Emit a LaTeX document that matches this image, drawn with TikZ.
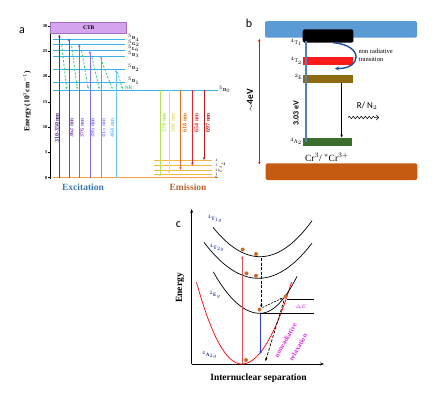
\documentclass[tikz,border=0pt]{standalone}
\usepackage{fontspec}
\setmainfont{Liberation Serif}
\setsansfont{Carlito}
\usetikzlibrary{arrows.meta,decorations.pathmorphing}
\definecolor{lvl}{HTML}{3DB3E3}
\definecolor{ctbfill}{HTML}{D4A5EE}
\definecolor{ctbdraw}{HTML}{A070C0}
\definecolor{exa}{HTML}{5C2D91}
\definecolor{exb}{HTML}{7B3FA8}
\definecolor{exc}{HTML}{9B59D0}
\definecolor{exd}{HTML}{7F6FE8}
\definecolor{exe}{HTML}{8C8CF0}
\definecolor{exf}{HTML}{6EC6EE}
\definecolor{nrgreen}{HTML}{2BD46B}
\definecolor{gnd}{HTML}{F5A04A}
\definecolor{fj}{HTML}{F0B848}
\definecolor{ema}{HTML}{B5E05A}
\definecolor{emb}{HTML}{E6E070}
\definecolor{emc}{HTML}{E0701E}
\definecolor{emd}{HTML}{E02828}
\definecolor{eme}{HTML}{B81818}
\definecolor{excol}{HTML}{3A78B5}
\definecolor{emcol}{HTML}{B8692E}
\definecolor{topbar}{HTML}{5B9BD5}
\definecolor{botbar}{HTML}{C55A11}
\definecolor{redbox}{HTML}{FF1A1A}
\definecolor{olive}{HTML}{8C6A12}
\definecolor{greenbox}{HTML}{3B6E2D}
\definecolor{bluel}{HTML}{4F81BD}
\definecolor{curvarr}{HTML}{1F4E9A}
\definecolor{dotc}{HTML}{CC6B2C}
\definecolor{lblblue}{HTML}{1A2A8A}
\definecolor{magc}{HTML}{E030E0}
\definecolor{bluearr}{HTML}{2A3AE0}
\definecolor{redarr}{HTML}{E05050}
\tikzset{
  panellbl/.style={font=\sffamily\fontsize{12}{12}\selectfont, inner sep=0pt},
  tick/.style={font=\bfseries\fontsize{4.5}{5}\selectfont, inner sep=0pt, anchor=east},
  lvllbl/.style={font=\bfseries\fontsize{4.5}{4.5}\selectfont, inner sep=0pt, anchor=west},
  wl/.style={rotate=90, font=\bfseries\fontsize{6}{6}\selectfont, inner sep=0pt},
  tip/.style={-{Stealth[length=3pt,width=2.4pt]}},
  level/.style={draw=lvl, line width=0.9pt},
  clbl/.style={font=\bfseries\fontsize{5}{5}\selectfont, text=lblblue, inner sep=0pt},
  dot/.style={circle, fill=dotc, inner sep=0pt, minimum size=4pt},
}
\begin{document}
\begin{tikzpicture}[x=1pt,y=-1pt]
\useasboundingbox (0,0) rectangle (439,399);
% ================= panel a =================
\node[panellbl] (la) at (22,31) {a};
\draw[line width=0.6pt] (50,25) -- (50,178.5);
\foreach \v [count=\i from 0] in {0,5,10,15,20,25,30} {
  \draw[line width=0.6pt] (48,177.7-25.3*\i) -- (50,177.7-25.3*\i);
  \node[tick] at (47.5,177.7-25.3*\i) {\v};
}
\node[rotate=90, font=\bfseries\fontsize{7.5}{8}\selectfont] (ylab) at (27,101) {Energy (10$^3$cm$^{-1}$)};
\node[draw=ctbdraw, fill=ctbfill, minimum width=76pt, minimum height=10.6pt, inner sep=0pt,
      font=\bfseries\fontsize{5.5}{6}\selectfont, line width=0.5pt] (ctb) at (88.7,28) {CTB};
% levels
\foreach \y/\l in {39.3/{$^5$D$_4$},44.7/{$^5$G$_2$},50/{$^5$L$_6$},56/{$^5$D$_3$},69.3/{$^5$D$_2$},82.3/{$^5$D$_1$}} {
  \draw[level] (53,\y) -- (125,\y);
  \node[lvllbl] at (128,\y-1.5) {\l};
}
\draw[level] (53,90) -- (218,90);
\node[lvllbl] (d0) at (219,89.5) {$^5$D$_0$};
\node[font=\bfseries\fontsize{5}{5}\selectfont, text=nrgreen, inner sep=0pt] (nr) at (128.5,88) {NR};
% ground
\draw[draw=gnd, line width=1.1pt] (53,177.7) -- (218,177.7);
% non radiative dashed
\foreach \xa/\ya/\xb in {61.7/45/66.7, 71.7/46/77.3, 81.7/51/88.3, 92/57/99.3, 102/62/112.3, 117.5/72/122.5} {
  \draw[nrgreen, line width=0.8pt, dash pattern=on 2.2pt off 1.6pt, -{Stealth[length=2.2pt,width=2pt]}] (\xa,\ya) -- (\xb,89);
}
% excitation arrows
\foreach \x/\yt/\c/\lab/\dx in {59.3/34.5/exa/310-350 nm/-2.3, 69/38.5/exb/362 nm/2.5, 79.3/44/exc/376 nm/2.5, 90/51/exd/395 nm/2.5, 101/56/exe/415 nm/2.3, 116/69.5/exf/464 nm/-3.8} {
  \draw[tip, \c, line width=1pt] (\x,177.7) -- (\x,\yt);
  \node[wl, text=\c] at (\x+\dx,128) {\lab};
}
% 7F levels
\foreach \y/\n in {160/4,165.7/3,170/2,174/1} {
  \draw[fj, line width=1pt] (154,\y) -- (212,\y);
  \node[font=\fontsize{3.5}{4}\selectfont, inner sep=0pt] at (216.5,\y) {\n};
}
\node[font=\fontsize{3.5}{4}\selectfont, inner sep=0pt] at (216.5,177.7) {0};
\node[rotate=-90, font=\fontsize{3.5}{4}\selectfont, inner sep=0pt] (fjl) at (221.5,168) {$^7$F$_J$};
% emission arrows
\foreach \x/\yb/\c/\lab in {160/176.5/ema/578 nm, 169/173.5/emb/588 nm, 180.7/170/emc/618 nm, 192.3/165.5/emd/654 nm, 204/160/eme/697 nm} {
  \draw[tip, \c, line width=1pt] (\x,90) -- (\x,\yb);
  \node[wl, text=\c] at (\x+4,123) {\lab};
}
\node[font=\bfseries\fontsize{9.5}{10}\selectfont, text=excol, inner sep=0pt] (exl) at (83,187.5) {Excitation};
\node[font=\bfseries\fontsize{9.5}{10}\selectfont, text=emcol, inner sep=0pt] (eml) at (188,187.5) {Emission};
% ================= panel b =================
\node[panellbl] (lb) at (249,23) {b};
\fill[topbar, rounded corners=2pt] (265,21) rectangle (417,37.7);
\fill[botbar, rounded corners=2pt] (265.7,163.3) rectangle (417.3,180);
\fill[black, rounded corners=1.5pt] (302.7,29.3) rectangle (353.3,42.7);
\fill[redbox] (302.7,57.3) rectangle (352.7,65);
\fill[olive] (302.7,75) rectangle (352.7,82.7);
\fill[greenbox] (302.7,138.3) rectangle (351.7,146);
\coordinate (t1) at (306,40.5);
\coordinate (a2) at (306,141.7);
\draw[bluel, line width=1.8pt] (t1) -- (a2);
\coordinate (es) at (341.7,82.7);
\coordinate (ee) at (341.7,137.5);
\draw[-{Stealth[length=3pt,width=2.4pt]}, line width=0.9pt] (es) -- (ee);
\coordinate (cs) at (333,42.7);
\coordinate (ce) at (335,68.5);
\draw[curvarr, line width=1.4pt, -{Stealth[length=4pt,width=4pt]}] (cs) .. controls (364,45) and (362,69) .. (ce);
\node[font=\fontsize{6.5}{7.5}\selectfont, align=left, anchor=west, inner sep=0pt] (nrt) at (358.5,55.5) {non radiative\\transition};
\foreach \y/\l in {42.2/{$^4$T$_1$},61/{$^4$T$_2$},76.5/{$^2$E},141.5/{$^4$A$_2$}} {
  \node[font=\fontsize{5.5}{5.5}\selectfont, anchor=east, inner sep=0pt] at (302,\y) {\l};
}
\node[rotate=90, font=\sffamily\bfseries\fontsize{8}{8}\selectfont, inner sep=0pt] (eV) at (296,113) {3.03 eV};
\node[font=\sffamily\fontsize{9}{9}\selectfont, inner sep=0pt] (rn) at (367,106) {R/ N$_2$};
\coordinate (ws) at (348,117.5);
\coordinate (we) at (379,117.5);
\draw[line width=0.5pt, decorate, decoration={snake, amplitude=1.3pt, segment length=4pt, post length=3pt}, -{Straight Barb[length=2.5pt]}] (ws) -- (we);
\coordinate (rt) at (259.3,39);
\coordinate (rb) at (259.3,164.3);
\draw[red, line width=1.2pt, {Stealth[length=2.5pt,width=2.5pt]}-{Stealth[length=2.5pt,width=2.5pt]}] (rt) -- (rb);
\node[rotate=90, font=\sffamily\bfseries\fontsize{9.5}{10}\selectfont, inner sep=0pt] (fev) at (250,100) {$\sim$4eV};
\node[font=\fontsize{9.5}{9.5}\selectfont, inner sep=0pt] (cr) at (327,157) {Cr$^{3}$/ $^{*}$Cr$^{3+}$};
% ================= panel c =================
\node[panellbl] (lc) at (178.5,224.5) {c};
\coordinate (org) at (191.7,364);
\draw[line width=0.7pt, -{Stealth[length=4pt,width=3pt]}] (org) -- (191.7,209);
\draw[line width=0.7pt, -{Stealth[length=4pt,width=3pt]}] (org) -- (324,364);
\node[rotate=90, font=\bfseries\fontsize{9.5}{10}\selectfont, inner sep=0pt] (en) at (180,288) {Energy};
\node[font=\bfseries\fontsize{9.5}{10}\selectfont, inner sep=0pt] (ins) at (258.5,378.5) {Internuclear separation};
% ground red parabola
\draw[red, line width=0.7pt] plot[domain=196.5:241.7, samples=30, smooth] (\x,{364-0.040*(\x-241.7)^2})
  -- plot[domain=241.7:291.5, samples=30, smooth] (\x,{364-0.033*(\x-241.7)^2});
% 2Eg
\draw[line width=0.7pt] plot[domain=213.3:260, samples=30, smooth] (\x,{313.3-0.019*(\x-260)^2})
  -- plot[domain=260:297, samples=30, smooth] (\x,{313.3-0.027*(\x-260)^2});
% 4T2g
\draw[line width=0.7pt] plot[domain=204:312, samples=40, smooth] (\x,{278.3-0.0122*(\x-258.3)^2});
% 4T1g
\draw[line width=0.7pt] plot[domain=213:312, samples=40, smooth] (\x,{256.7-0.0133*(\x-260)^2});
\node[clbl] (l1) at (215,219) {$^4$T$_{1g}$};
\node[clbl] (l2) at (217,248) {$^4$T$_{2g}$};
\node[clbl] (l3) at (215,295) {$^2$E$_g$};
\node[clbl] (l4) at (209.5,355) {$^4$A$_{2g}$};
% dots
\node[dot] (d1) at (242.7,249.5) {};
\node[dot] (d2) at (256,254) {};
\node[dot] (d3) at (246.5,273.3) {};
\node[dot] (d4) at (256,275.7) {};
\node[dot] (d5) at (259.5,309.5) {};
\node[dot] (d6) at (285.5,296.5) {};
\node[dot] (d7) at (246,360) {};
% ΔE lines
\draw[line width=0.6pt] (287,299.5) -- (314,299.5);
\draw[line width=0.6pt] (260,313.5) -- (314,313.5);
\node[font=\bfseries\fontsize{5}{5}\selectfont, text=magc, inner sep=0pt] (de) at (301,306.5) {$\Delta E$};
% arrows
\coordinate (ra) at (242.3,364);
\draw[redarr, line width=0.8pt, -{Stealth[length=3pt,width=2.5pt]}] (ra) -- (242.3,256);
\draw[line width=0.7pt, dash pattern=on 3pt off 1.5pt, -{Stealth[length=3pt,width=2.5pt]}] (261.3,258) -- (261.3,307.5);
\draw[line width=0.6pt, dash pattern=on 2pt off 1.2pt, -{Stealth[length=2.5pt,width=2.2pt]}] (262.5,307.5) -- (282.5,298);
\draw[bluearr, line width=0.8pt, -{Stealth[length=3pt,width=2.5pt]}] (260.7,314) -- (260.7,354);
\draw[line width=0.7pt, dash pattern=on 3pt off 1.5pt, -{Stealth[length=3pt,width=2.5pt]}] (284,300.5) -- (265.5,361);
\node[rotate=60, font=\bfseries\fontsize{7}{7}\selectfont, text=magc, inner sep=0pt] (nrr1) at (285.5,340.5) {nonradiative};
\node[rotate=60, font=\bfseries\fontsize{7}{7}\selectfont, text=magc, inner sep=0pt] (nrr2) at (298,347.5) {relaxation};
\end{tikzpicture}
\end{document}
